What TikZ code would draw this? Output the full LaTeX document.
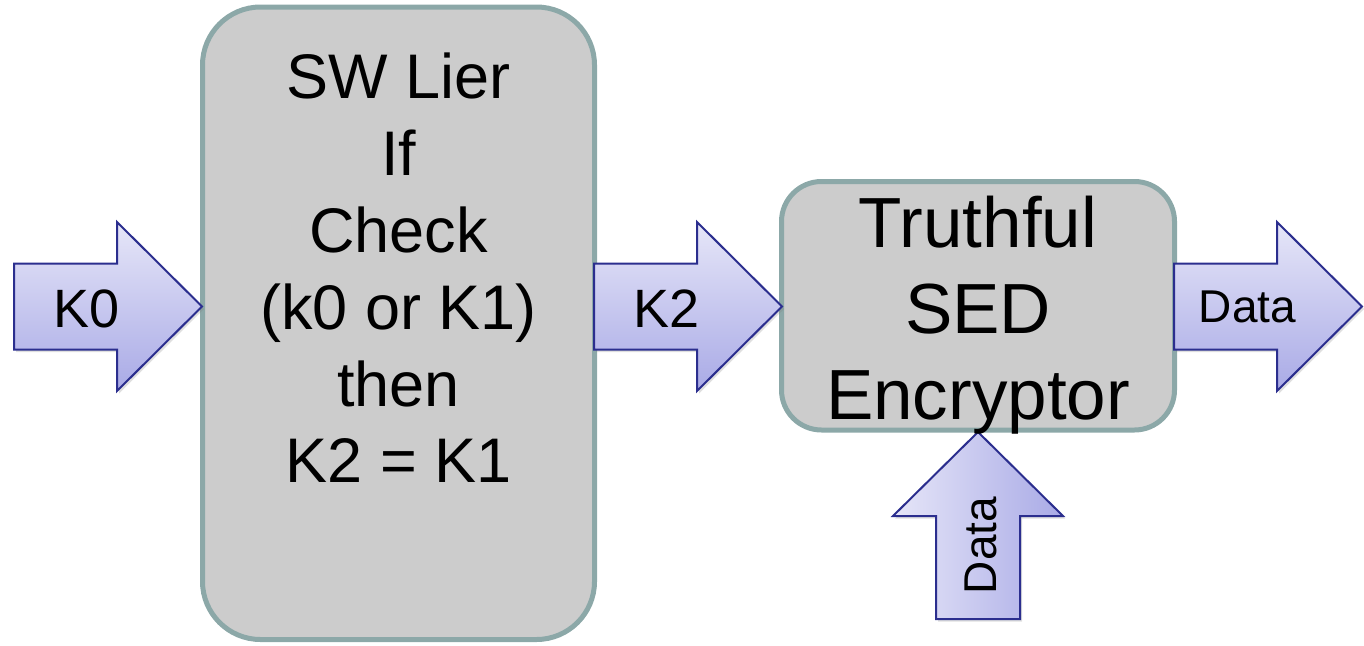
\documentclass[tikz,border=0pt]{standalone}
\usepackage{fontspec}
\setmainfont{Liberation Sans}
\usetikzlibrary{shadows}

\definecolor{boxfill}{HTML}{CCCCCC}
\definecolor{boxline}{HTML}{8CA8A8}
\definecolor{arrowlight}{HTML}{E6E6F8}
\definecolor{arrowdark}{HTML}{A9AAE6}
\definecolor{arrowline}{HTML}{2B2E8E}

\tikzset{
  procbox/.style={draw=boxline, line width=5pt, fill=boxfill, inner sep=0pt},
  arrowbase/.style={draw=arrowline, line width=2pt, line join=miter,
    drop shadow={opacity=0.25, shadow xshift=2pt, shadow yshift=-2.5pt}},
  harrow/.style={arrowbase, top color=arrowlight, bottom color=arrowdark},
  varrow/.style={arrowbase, left color=arrowlight, right color=arrowdark},
  bigtext/.style={anchor=base, inner sep=0pt, font=\fontsize{63}{77}\selectfont},
  enctext/.style={anchor=base, inner sep=0pt, font=\fontsize{71}{86}\selectfont},
  keytext/.style={anchor=base, inner sep=0pt, font=\fontsize{54}{64}\selectfont},
  datatext/.style={anchor=base, inner sep=0pt, font=\fontsize{46}{54}\selectfont},
  % horizontal block arrow, origin at the tail centre
  pics/blockarrow/.style={code={
    \path[harrow] (0,-43) -- (103,-43) -- (103,-84.5) -- (188,0)
      -- (103,84.5) -- (103,43) -- (0,43) -- cycle;}}
}

\begin{document}
\begin{tikzpicture}[x=1pt, y=-1pt]
  \useasboundingbox (0,0) rectangle (1364,645);

  % processing blocks
  \node[procbox, rounded corners=58pt, minimum width=392pt,
        minimum height=632.5pt] (lier) at (398.5,323.25) {};
  \node[procbox, rounded corners=40pt, minimum width=393pt,
        minimum height=248.5pt] (enc) at (978,305.75) {};

  % block arrows
  \pic at (14,306.5) {blockarrow};
  \pic at (594,306.5) {blockarrow};
  \pic at (1174,306.5) {blockarrow};
  \path[varrow] (936,619) -- (1020,619) -- (1020,516) -- (1063,516)
    -- (978,432) -- (893,516) -- (936,516) -- cycle;

  % block labels
  \node[bigtext] (l1) at (398.5,98)  {SW Lier};
  \node[bigtext] (l2) at (398.5,175) {If};
  \node[bigtext] (l3) at (398.5,252) {Check};
  \node[bigtext] (l4) at (398.5,329) {(k0 or K1)};
  \node[bigtext] (l5) at (398.5,406) {then};
  \node[bigtext] (l6) at (398.5,482) {K2 = K1};

  \node[enctext] (e1) at (978,247) {Truthful};
  \node[enctext] (e2) at (978,333) {SED};
  \node[enctext] (e3) at (978,419) {Encryptor};

  % arrow labels
  \node[keytext] (k0) at (86.5,327) {K0};
  \node[keytext] (k2) at (666.5,327) {K2};
  \node[datatext] (dout) at (1247.5,322) {Data};
  \node[datatext, rotate=90] (din) at (996,545.5) {Data};
\end{tikzpicture}
\end{document}
